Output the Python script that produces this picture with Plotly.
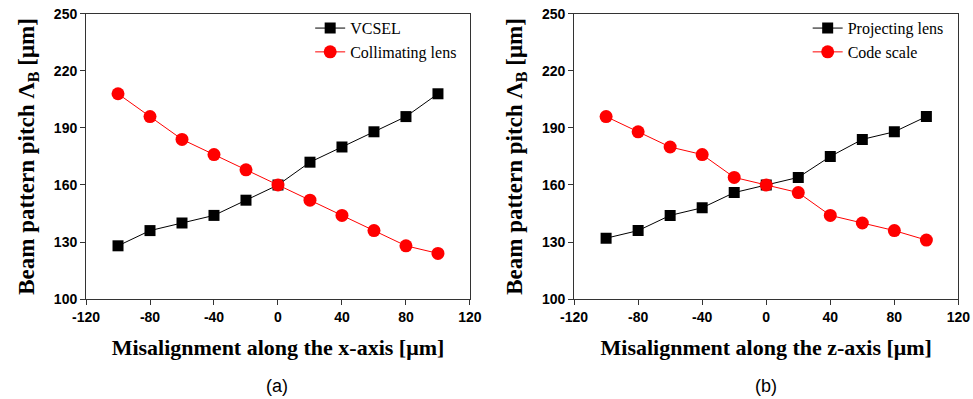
import plotly.graph_objects as go

x_vals = [-100, -80, -60, -40, -20, 0, 20, 40, 60, 80, 100]
vcsel = [128, 136, 140, 144, 152, 160, 172, 180, 188, 196, 208]
collimating = [208, 196, 184, 176, 168, 160, 152, 144, 136, 128, 124]
projecting = [132, 136, 144, 148, 156, 160, 164, 175, 184, 188, 196]
code_scale = [196, 188, 180, 176, 164, 160, 156, 144, 140, 136, 131]
x_ticks = [-120, -80, -40, 0, 40, 80, 120]
x_tick_labels = ["-120", "-80", "-40", "0", "40", "80", "120"]
y_ticks = [100, 130, 160, 190, 220, 250]

fig = go.Figure()

def add(x, y, name, color, symbol, size, xa, ya, leg):
    fig.add_trace(go.Scatter(
        x=x, y=y, name=name, mode="lines+markers",
        line=dict(color=color, width=1),
        marker=dict(color=color, symbol=symbol, size=size, line=dict(width=0)),
        xaxis=xa, yaxis=ya, legend=leg))

add(x_vals, vcsel, "VCSEL", "black", "square", 11, "x", "y", "legend")
add(x_vals, collimating, "Collimating lens", "#ff0000", "circle", 13, "x", "y", "legend")
add(x_vals, projecting, "Projecting lens", "black", "square", 11, "x2", "y2", "legend2")
add(x_vals, code_scale, "Code scale", "#ff0000", "circle", 13, "x2", "y2", "legend2")

tickfont = dict(family="Liberation Sans, Arial", size=14, color="black", weight="bold")
xtitlefont = dict(family="Liberation Serif, Times New Roman, serif", size=22, color="black", weight="bold")
ytitlefont = dict(family="Liberation Serif, Times New Roman, serif", size=23, color="black", weight="bold")

def xaxis(domain, anchor, title):
    return dict(domain=domain, anchor=anchor, range=[-120, 120], tickvals=x_ticks,
                ticktext=x_tick_labels, automargin=False,
                ticks="outside", ticklen=5, tickcolor="#333", showline=True, linecolor="#333",
                linewidth=1, mirror=True, showgrid=False, zeroline=False, tickfont=tickfont,
                title=dict(text=title, font=xtitlefont, standoff=15))

def yaxis(anchor):
    return dict(domain=[0.2506, 0.965], anchor=anchor, range=[100, 250], tickvals=y_ticks,
                automargin=False,
                ticks="outside", ticklen=5, tickcolor="#333", showline=True, linecolor="#333",
                linewidth=1, mirror=True, showgrid=False, zeroline=False, tickfont=tickfont,
                title=dict(text="Beam pattern pitch Λ<sub>B</sub> [μm]", font=ytitlefont, standoff=12))

legfont = dict(family="Liberation Serif, Times New Roman, serif", size=16, color="black")

fig.update_layout(
    width=973, height=399, margin=dict(l=0, r=0, t=0, b=0),
    paper_bgcolor="white", plot_bgcolor="white",
    xaxis=xaxis([0.0884, 0.483], "y", "Misalignment along the x-axis [μm]"),
    yaxis=yaxis("x"),
    xaxis2=xaxis([0.590, 0.985], "y2", "Misalignment along the z-axis [μm]"),
    yaxis2=yaxis("x2"),
    legend=dict(x=0.475, y=0.972, xanchor="right", yanchor="top", bgcolor="rgba(0,0,0,0)",
                font=legfont, tracegroupgap=0, itemwidth=30),
    legend2=dict(x=0.975, y=0.972, xanchor="right", yanchor="top", bgcolor="rgba(0,0,0,0)",
                 font=legfont, tracegroupgap=0, itemwidth=30),
    annotations=[
        dict(text="(a)", x=277 / 973, y=1 - 386 / 399, xref="paper", yref="paper", showarrow=False,
             xanchor="center", yanchor="middle",
             font=dict(family="Liberation Sans, Arial", size=18, color="black")),
        dict(text="(b)", x=766 / 973, y=1 - 386 / 399, xref="paper", yref="paper", showarrow=False,
             xanchor="center", yanchor="middle",
             font=dict(family="Liberation Sans, Arial", size=18, color="black")),
    ],
)

fig.write_html("out.html")
